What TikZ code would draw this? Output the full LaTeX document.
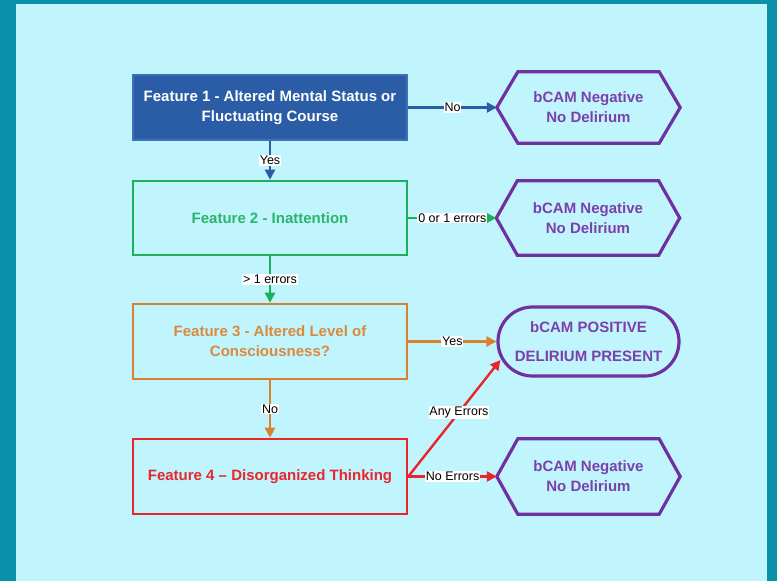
\documentclass[tikz,border=0pt]{standalone}
\usepackage{fontspec}
\setmainfont{Liberation Sans}
\usetikzlibrary{arrows.meta,calc}
\definecolor{frame}{HTML}{0891A8}
\definecolor{bgc}{HTML}{C0F5FE}
\definecolor{bluef}{HTML}{2B5CA6}
\definecolor{blued}{HTML}{4070B8}
\definecolor{greenc}{HTML}{1DB05A}
\definecolor{greent}{HTML}{2DB56C}
\definecolor{orangec}{HTML}{D9812E}
\definecolor{oranget}{HTML}{D98A3C}
\definecolor{redc}{HTML}{E8262C}
\definecolor{purplec}{HTML}{7030A0}
\definecolor{purplet}{HTML}{7B40AA}
\newcommand\hexborder[1]{\draw[hexline] ([xshift=-21pt]#1.west) -- (#1.north west) -- (#1.north east) -- ([xshift=21pt]#1.east) -- (#1.south east) -- (#1.south west) -- cycle;}
\begin{document}
\begin{tikzpicture}[x={(1pt,0)},y={(0,-1pt)},
  featbox/.style={rectangle,minimum width=274,line width=2.6,align=center,
    font=\bfseries\fontsize{15}{20}\selectfont},
  hexnode/.style={rectangle,minimum width=141,align=center,text=purplet,
    font=\bfseries\fontsize{15}{20}\selectfont},
  hexline/.style={draw=purplec,line width=3.2,line join=miter},
  conn/.style={line width=2.4,-{Triangle[length=10pt,width=10pt]}},
  lbl/.style={fill=white,text=black,inner sep=0.8pt,font=\fontsize{12.5}{14}\selectfont}]
\useasboundingbox (0,0) rectangle (777,581);
\fill[frame] (0,0) rectangle (777,581);
\fill[bgc] (16,4) rectangle (767,581);
% feature boxes
\node[featbox,fill=bluef,draw=blued,text=white,minimum height=65] (b1) at (270,107.5)
  {Feature 1 - Altered Mental Status or\\Fluctuating Course};
\node[featbox,draw=greenc,text=greent,minimum height=74] (b2) at (270,218)
  {Feature 2 - Inattention};
\node[featbox,draw=orangec,text=oranget,minimum height=75] (b3) at (270,341.5)
  {Feature 3 - Altered Level of\\Consciousness?};
\node[featbox,draw=redc,text=redc,minimum height=75] (b4) at (270,476.5)
  {Feature 4 \textendash{} Disorganized Thinking};
% outcome nodes
\node[hexnode,minimum height=71] (h1) at (588.5,107.5) {bCAM Negative\\No Delirium};
\node[hexnode,minimum height=74] (h2) at (588,218) {bCAM Negative\\No Delirium};
\node[hexnode,minimum height=75] (h3) at (588.5,476.5) {bCAM Negative\\No Delirium};
\hexborder{h1}
\hexborder{h2}
\hexborder{h3}
\node[rectangle,rounded corners=34.5,minimum width=181,minimum height=69,
  draw=purplec,line width=3.2,text=purplet,align=center,
  font=\bfseries\fontsize{15}{29}\selectfont] (st) at (588.5,341.5)
  {bCAM POSITIVE\\DELIRIUM PRESENT};
\coordinate (h1w) at ([xshift=-21pt]h1.west);
\coordinate (h2w) at ([xshift=-21pt]h2.west);
\coordinate (h3w) at ([xshift=-21pt]h3.west);
\coordinate (stlow) at ([shift={(4,18.5)}]st.west);
% connectors
\draw[conn,draw=bluef,fill=bluef] (b1.east) -- node[lbl]{No} (h1w);
\draw[conn,draw=bluef,fill=bluef] (b1.south) -- node[lbl]{Yes} (b2.north);
\draw[conn,draw=greenc,fill=greenc] (b2.east) -- node[lbl]{0 or 1 errors} (h2w);
\draw[conn,draw=greenc,fill=greenc] (b2.south) -- node[lbl]{> 1 errors} (b3.north);
\draw[conn,draw=orangec,fill=orangec] (b3.east) -- node[lbl]{Yes} (st.west);
\draw[conn,draw=orangec,fill=orangec] (b3.south) -- node[lbl]{No} (b4.north);
\draw[conn,draw=redc,fill=redc] (b4.east) -- node[lbl]{No Errors} (h3w);
\draw[conn,draw=redc,fill=redc] (b4.east) -- node[lbl,pos=0.55]{Any Errors} (stlow);
\end{tikzpicture}
\end{document}
